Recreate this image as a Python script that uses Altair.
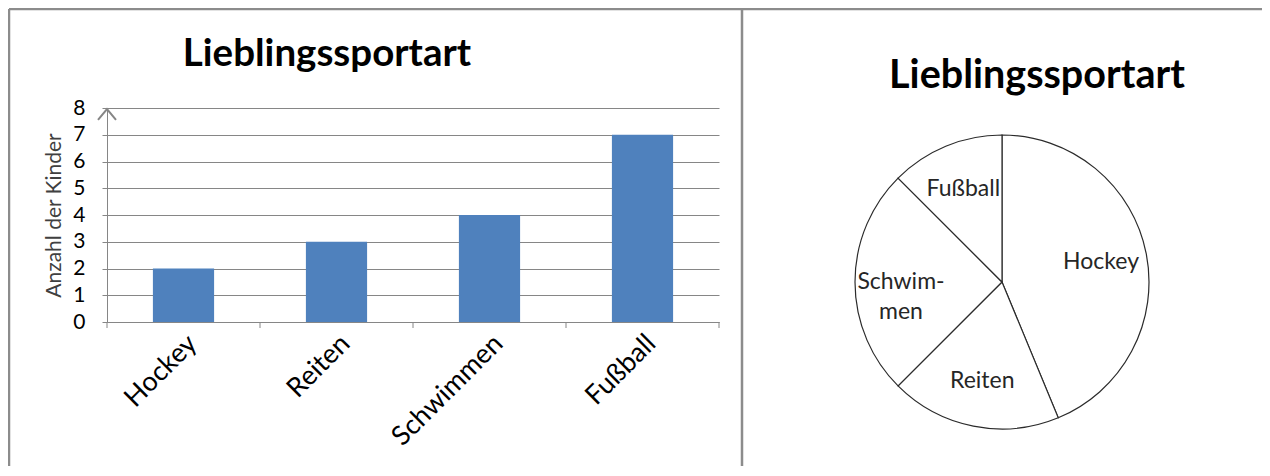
import altair as alt
import pandas as pd

# ---- data ----
sports = ["Hockey", "Reiten", "Schwimmen", "Fußball"]
kinder = [2, 3, 4, 7]
pie_sports = ["Hockey", "Reiten", "Schwimmen", "Fußball"]
pie_values = [7, 3, 4, 2]
pie_labels = ["Hockey", "Reiten", "Schwim-\nmen", "Fußball"]
y_ticks = [0, 1, 2, 3, 4, 5, 6, 7, 8]
title_text = "Lieblingssportart"
y_title = "Anzahl der Kinder"

# ---- layout ----
W, H = 612, 214
PAD_L, PAD_T = 99, 100
PAD_R = 1254 - PAD_L - W
PAD_B = 144
FONT = "Lato"
GRID = "#868686"
FRAME = "#8c8c8c"

bar_df = pd.DataFrame({"sport": sports, "kinder": kinder})
pie_df = pd.DataFrame({"sport": pie_sports, "wert": pie_values,
                       "label": pie_labels, "idx": list(range(len(pie_sports)))})
one = pd.DataFrame({"t": [title_text]})

x_axis = alt.Axis(title=None, labelAngle=-45, labelFontSize=27,
                  labelColor="#000000", labelFont=FONT, ticks=False,
                  domainColor=GRID, labelPadding=8)
x_enc = alt.X("sport:N", sort=sports,
              scale=alt.Scale(paddingInner=0, paddingOuter=0), axis=x_axis)
y_enc = alt.Y("kinder:Q", scale=alt.Scale(domain=[0, 8], nice=False),
              axis=alt.Axis(values=y_ticks, grid=True, gridColor=GRID,
                            domainColor=GRID, tickColor=GRID, tickSize=5,
                            labelFontSize=21, labelColor="#000000", labelFont=FONT,
                            labelPadding=17, title=y_title, titleFont=FONT,
                            titleFontSize=21, titleFontWeight="normal",
                            titleColor="#404040", titlePadding=8))

bars = alt.Chart(bar_df).mark_bar(color="#4F81BD",
                                  width=alt.RelativeBandSize(0.4)).encode(x=x_enc, y=y_enc)

xticks = alt.Chart(bar_df).mark_rule(color=GRID).encode(
    x=alt.X("sport:N", sort=sports, bandPosition=0, axis=x_axis),
    y=alt.value(H), y2=alt.value(H + 6))
xtick_end = alt.Chart(one).mark_rule(color=GRID).encode(
    x=alt.value(W), y=alt.value(H), y2=alt.value(H + 6))

arrow = alt.Chart(one).mark_point(shape="M-1,1.2L0,0L1,1.2", filled=False,
                                  stroke=GRID, strokeWidth=2, size=324,
                                  opacity=1).encode(x=alt.value(0), y=alt.value(1))

CX, CY = 895, 174
arcs = alt.Chart(pie_df).mark_arc(radius=147, fill="white", stroke="#2b2b2b",
                                  strokeWidth=1.2).encode(
    theta=alt.Theta("wert:Q", stack=True),
    order=alt.Order("idx:Q"),
    detail="sport:N",
    x=alt.value(CX), y=alt.value(CY))
pie_text = alt.Chart(pie_df).mark_text(radius=101, font=FONT, fontSize=23,
                                       color="#262626", lineBreak="\n", lineHeight=30,
                                       align="center", baseline="middle").encode(
    theta=alt.Theta("wert:Q", stack=True),
    order=alt.Order("idx:Q"),
    detail="sport:N",
    text="label:N",
    x=alt.value(CX), y=alt.value(CY))

title_left = alt.Chart(one).mark_text(font=FONT, fontSize=38.5, fontWeight="bold",
                                      color="#000000", baseline="alphabetic").encode(
    text="t:N", x=alt.value(220), y=alt.value(-42))
title_right = alt.Chart(one).mark_text(font=FONT, fontSize=39.5, fontWeight="bold",
                                       color="#000000", baseline="alphabetic").encode(
    text="t:N", x=alt.value(930), y=alt.value(-20))

frame_top = alt.Chart(one).mark_rule(color=FRAME, strokeWidth=2.5).encode(
    x=alt.value(-98), x2=alt.value(1160), y=alt.value(-99))
frame_l = alt.Chart(one).mark_rule(color=FRAME, strokeWidth=2.5).encode(
    x=alt.value(-98), y=alt.value(-99), y2=alt.value(H + PAD_B))
frame_m = alt.Chart(one).mark_rule(color=FRAME, strokeWidth=2.5).encode(
    x=alt.value(635), y=alt.value(-99), y2=alt.value(H + PAD_B))
frame_r = alt.Chart(one).mark_rule(color=FRAME, strokeWidth=2.5).encode(
    x=alt.value(1160), y=alt.value(-99), y2=alt.value(H + PAD_B))

chart = alt.layer(
    bars, xticks, xtick_end, arrow, arcs, pie_text, title_left, title_right,
    frame_top, frame_l, frame_m, frame_r
).properties(
    width=W, height=H,
    autosize=alt.AutoSizeParams(type="none"),
    padding={"left": PAD_L, "top": PAD_T, "right": PAD_R, "bottom": PAD_B},
    background="white"
).configure_view(strokeOpacity=0)

chart.save("out.html", embed_options={"renderer": "svg", "actions": False})
